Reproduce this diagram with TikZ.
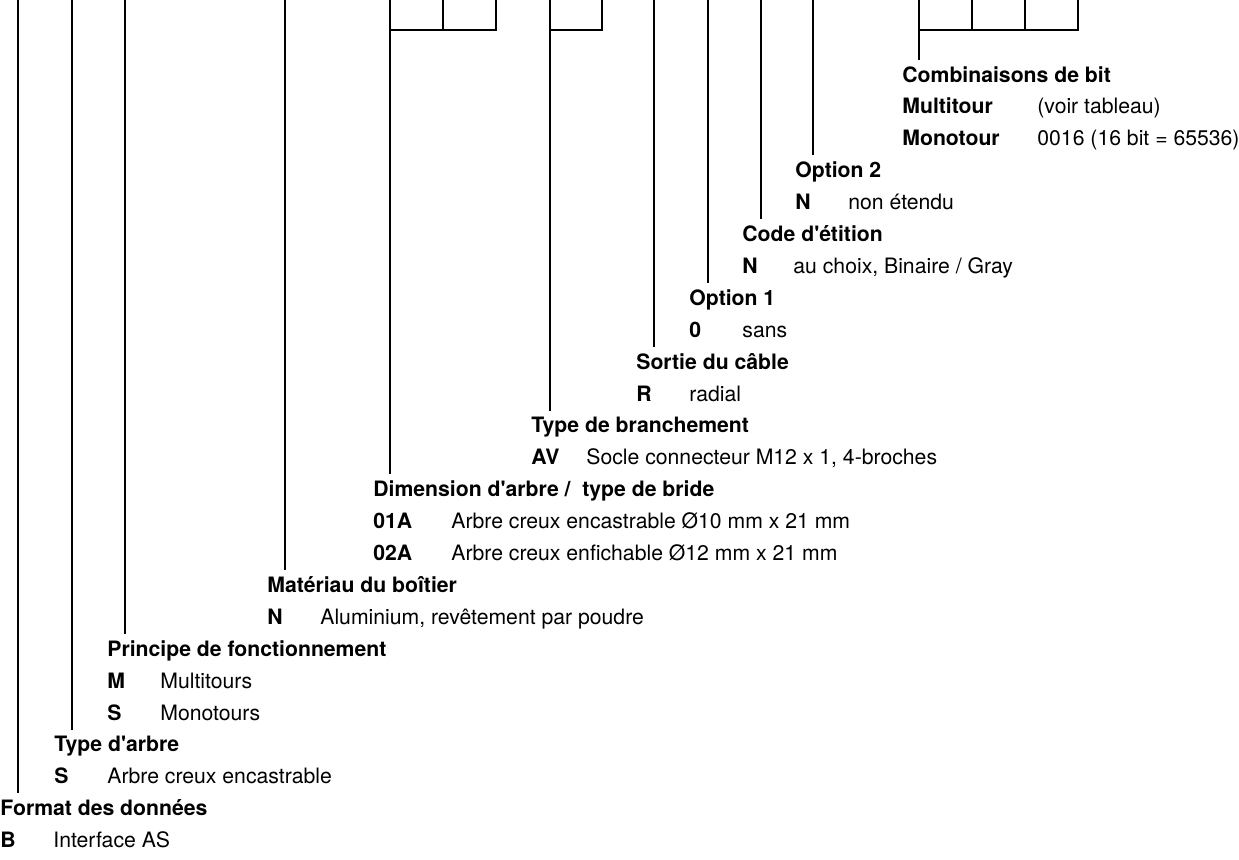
\documentclass[tikz,border=0pt]{standalone}
\usepackage{fontspec}
\setmainfont{TeX Gyre Heros}
\usetikzlibrary{positioning}
\newcommand{\codefont}{\fontsize{10.6pt}{12pt}\selectfont}
\tikzset{
  grouptitle/.style={
    font=\codefont\bfseries,
    anchor=base west,
    inner sep=0pt,
    text height=11pt
  },
  itemkey/.style={font=\codefont\bfseries, anchor=base west, inner sep=0pt},
  itemtext/.style={font=\codefont, anchor=base west, inner sep=0pt},
  leadline/.style={line width=1.1pt},
  codebox/.style={line width=1.1pt}
}
\begin{document}
\begin{tikzpicture}[x=0.5pt, y=-0.5pt]
\useasboundingbox (0,0) rectangle (1239,859);

% code boxes at the top
\draw[codebox] (390,0) -- (390,30) -- (496,30) -- (496,0) (443,0) -- (443,30);
\draw[codebox] (550,0) -- (550,30) -- (602,30) -- (602,0);
\draw[codebox] (919,0) -- (919,30) -- (1078,30) -- (1078,0) (972,0) -- (972,30) (1025,0) -- (1025,30);

% group titles
\node[grouptitle] (bits) at (902,82) {Combinaisons de bit};
\node[grouptitle] (opt2) at (795,177.7) {Option 2};
\node[grouptitle] (code) at (742,241.5) {Code d\textquotesingle étition};
\node[grouptitle] (opt1) at (689,305.3) {Option 1};
\node[grouptitle] (cable) at (636,369.1) {Sortie du câble};
\node[grouptitle] (conn) at (531,432.9) {Type de branchement};
\node[grouptitle] (dim) at (373,496.7) {Dimension d\textquotesingle arbre /\ \ type de bride};
\node[grouptitle] (mat) at (267,592.4) {Matériau du boîtier};
\node[grouptitle] (princ) at (107,656.2) {Principe de fonctionnement};
\node[grouptitle] (shaft) at (54,751.9) {Type d\textquotesingle arbre};
\node[grouptitle] (fmt) at (0,815.7) {Format des données};

% items
\node[itemkey] (multi) at (902,113.9) {Multitour};
\node[itemtext] (multi txt) at (1037,113.9) {(voir tableau)};
\node[itemkey] (mono) at (902,145.8) {Monotour};
\node[itemtext] (mono txt) at (1037,145.8) {0016 (16 bit = 65536)};
\node[itemkey] (opt2 n) at (795,209.6) {N};
\node[itemtext] (opt2 txt) at (848,209.6) {non étendu};
\node[itemkey] (code n) at (742,273.4) {N};
\node[itemtext] (code txt) at (793,273.4) {au choix, Binaire / Gray};
\node[itemkey] (opt1 n) at (689,337.2) {0};
\node[itemtext] (opt1 txt) at (742,337.2) {sans};
\node[itemkey] (cable r) at (636,401) {R};
\node[itemtext] (cable txt) at (689,401) {radial};
\node[itemkey] (conn av) at (531,464.8) {AV};
\node[itemtext] (conn txt) at (586,464.8) {Socle connecteur M12 x 1, 4-broches};
\node[itemkey] (dim a) at (373,528.6) {01A};
\node[itemtext] (dim a txt) at (451,528.6) {Arbre creux encastrable Ø10 mm x 21 mm};
\node[itemkey] (dim b) at (373,560.5) {02A};
\node[itemtext] (dim b txt) at (451,560.5) {Arbre creux enfichable Ø12 mm x 21 mm};
\node[itemkey] (mat n) at (267,624.3) {N};
\node[itemtext] (mat txt) at (320,624.3) {Aluminium, revêtement par poudre};
\node[itemkey] (princ m) at (107,688.1) {M};
\node[itemtext] (princ m txt) at (160,688.1) {Multitours};
\node[itemkey] (princ s) at (107,720) {S};
\node[itemtext] (princ s txt) at (160,720) {Monotours};
\node[itemkey] (shaft s) at (54,783.8) {S};
\node[itemtext] (shaft txt) at (107,783.8) {Arbre creux encastrable};
\node[itemkey] (fmt b) at (0,847.6) {B};
\node[itemtext] (fmt txt) at (53,847.6) {Interface AS};

% leader lines
\coordinate (bits top) at (919,30);
\coordinate (opt2 top) at (813,0);
\coordinate (code top) at (761,0);
\coordinate (opt1 top) at (708,0);
\coordinate (cable top) at (654,0);
\coordinate (conn top) at (550,30);
\coordinate (dim top) at (390,30);
\coordinate (mat top) at (285,0);
\coordinate (princ top) at (125,0);
\coordinate (shaft top) at (72,0);
\coordinate (fmt top) at (18,0);

\draw[leadline] (bits top) -- (bits top |- bits.north);
\draw[leadline] (opt2 top) -- (opt2 top |- opt2.north);
\draw[leadline] (code top) -- (code top |- code.north);
\draw[leadline] (opt1 top) -- (opt1 top |- opt1.north);
\draw[leadline] (cable top) -- (cable top |- cable.north);
\draw[leadline] (conn top) -- (conn top |- conn.north);
\draw[leadline] (dim top) -- (dim top |- dim.north);
\draw[leadline] (mat top) -- (mat top |- mat.north);
\draw[leadline] (princ top) -- (princ top |- princ.north);
\draw[leadline] (shaft top) -- (shaft top |- shaft.north);
\draw[leadline] (fmt top) -- (fmt top |- fmt.north);
\end{tikzpicture}
\end{document}
